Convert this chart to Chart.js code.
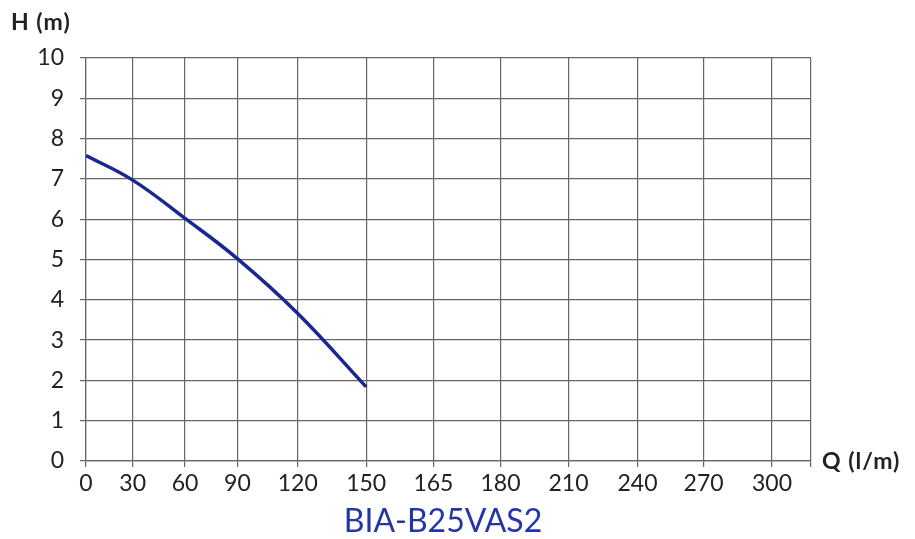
<!DOCTYPE html>
<html>
<head>
<meta charset="utf-8">
<title>BIA-B25VAS2</title>
<script src="https://cdn.jsdelivr.net/npm/chart.js@4.4.1/dist/chart.umd.min.js"></script>
<style>
  html, body { margin: 0; padding: 0; background: #fff; }
  #wrap { width: 915px; height: 539px; position: relative; }
</style>
</head>
<body>
<div id="wrap"><canvas id="pump-chart"></canvas></div>
<script>
// datos de la curva
const qValues = [0, 30, 60, 90, 120, 150];
const headValues = [7.58, 6.97, 6.02, 5.02, 3.66, 1.84];

// etiquetas de los ejes
const xTickLabels = [0, 30, 60, 90, 120, 150, 165, 180, 210, 240, 270, 300];
const yMin = 0;
const yMax = 10;
const xTitle = 'Q (l/m)';
const yTitle = 'H (m)';
const modelName = 'BIA-B25VAS2';

// the original grid is not evenly spaced, so the x scale maps each tick
// value to its own place along the axis (0..1)
const X_END = 317;
const GRID_STOPS = [0, 0.0644, 0.1366, 0.2088, 0.2921, 0.3864, 0.4792,
                    0.5717, 0.6655, 0.7607, 0.8518, 0.9462];

class StopScale extends Chart.LinearScale {
  static id = 'stops';

  _stops() {
    const s = xTickLabels.map((v, i) => [v, GRID_STOPS[i]]);
    s.push([X_END, 1]);
    return s;
  }
  buildTicks() {
    return this._stops().map(s => ({ value: s[0] }));
  }
  getPixelForValue(value) {
    const st = this._stops();
    let i = 1;
    while (i < st.length - 1 && value > st[i][0]) i++;
    const [v0, d0] = st[i - 1];
    const [v1, d1] = st[i];
    return this.getPixelForDecimal(d0 + (value - v0) / (v1 - v0) * (d1 - d0));
  }
  getValueForPixel(pixel) {
    const dec = this.getDecimalForPixel(pixel);
    const st = this._stops();
    let i = 1;
    while (i < st.length - 1 && dec > st[i][1]) i++;
    const [v0, d0] = st[i - 1];
    const [v1, d1] = st[i];
    return v0 + (dec - d0) / (d1 - d0) * (v1 - v0);
  }
}
Chart.register(StopScale);

const FONT = 'Lato, "Open Sans", sans-serif';
const GRID = '#666666';

const axisText = {
  id: 'axisText',
  afterDraw(chart) {
    const ctx = chart.ctx;
    const area = chart.chartArea;
    ctx.save();
    ctx.fillStyle = '#222';
    ctx.textBaseline = 'alphabetic';
    ctx.font = 'bold 23px ' + FONT;
    ctx.letterSpacing = '1px';
    ctx.textAlign = 'left';
    ctx.fillText(yTitle, 11, 30);
    ctx.fillText(xTitle, area.right + 11, 469);
    ctx.letterSpacing = '0px';
    ctx.fillStyle = '#2436a6';
    ctx.font = '32px ' + FONT;
    ctx.textAlign = 'center';
    ctx.fillText(modelName, 443, 532);
    ctx.restore();
  }
};

const ctx = document.getElementById('pump-chart').getContext('2d');
new Chart(ctx, {
  type: 'line',
  data: {
    datasets: [{
      label: modelName,
      data: qValues.map((q, i) => ({ x: q, y: headValues[i] })),
      borderColor: '#1b2690',
      borderWidth: 3.5,
      pointRadius: 0,
      fill: false,
      tension: 0.4
    }]
  },
  options: {
    responsive: true,
    maintainAspectRatio: false,
    animation: false,
    layout: { padding: { top: 58, right: 104, bottom: 0, left: 0 } },
    plugins: {
      legend: { display: false },
      tooltip: { enabled: false }
    },
    scales: {
      x: {
        type: 'stops',
        min: 0,
        max: X_END,
        afterFit: (s) => { s.height = 78; },
        ticks: {
          autoSkip: false,
          maxRotation: 0,
          padding: 3,
          color: '#222',
          font: { family: FONT, size: 23 },
          callback: (v) => (v === X_END ? '' : String(v))
        },
        grid: { color: GRID, lineWidth: 1.2, tickLength: 6, tickColor: GRID },
        border: { color: GRID, width: 1.2 }
      },
      y: {
        min: yMin,
        max: yMax,
        afterFit: (s) => { s.width = 86; },
        ticks: {
          stepSize: 1,
          padding: 16,
          color: '#222',
          font: { family: FONT, size: 23 }
        },
        grid: { color: GRID, lineWidth: 1.2, tickLength: 6, tickColor: GRID },
        border: { color: GRID, width: 1.2 }
      }
    }
  },
  plugins: [axisText]
});
</script>
</body>
</html>
